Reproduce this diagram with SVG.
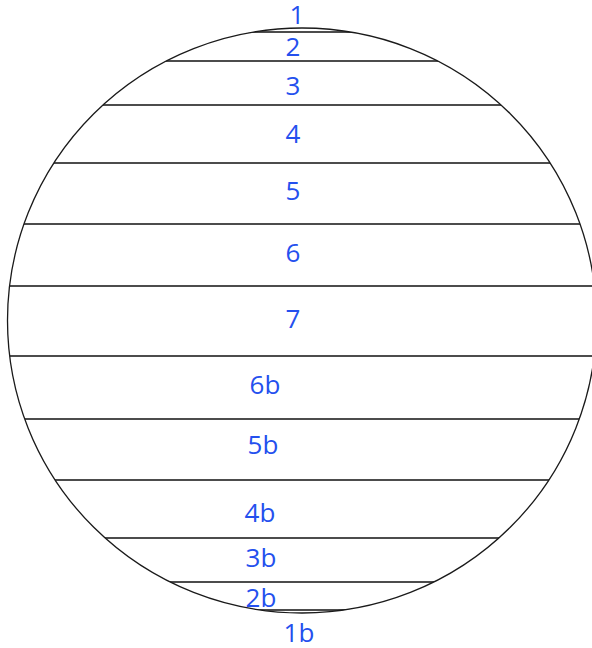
<svg xmlns="http://www.w3.org/2000/svg" width="592" height="648" viewBox="0 0 592 648">
<style>
.l{font-family:"Open Sans","Liberation Sans",sans-serif;font-size:26px;fill:#2450ee}
.m{text-anchor:middle}
.c{stroke:#1a1a1a;stroke-width:1.3;fill:none}
</style>
<defs><clipPath id="cp"><ellipse cx="302" cy="320.5" rx="294.5" ry="292.5"/></clipPath></defs>
<rect width="592" height="648" fill="#fff"/>
<g id="connectors" clip-path="url(#cp)" stroke="#111" stroke-width="1.4">
<line x1="0" y1="32" x2="592" y2="32"/>
<line x1="0" y1="61" x2="592" y2="61"/>
<line x1="0" y1="105" x2="592" y2="105"/>
<line x1="0" y1="163" x2="592" y2="163"/>
<line x1="0" y1="224" x2="592" y2="224"/>
<line x1="0" y1="286" x2="592" y2="286"/>
<line x1="0" y1="356" x2="592" y2="356"/>
<line x1="0" y1="419" x2="592" y2="419"/>
<line x1="0" y1="480" x2="592" y2="480"/>
<line x1="0" y1="538" x2="592" y2="538"/>
<line x1="0" y1="582" x2="592" y2="582"/>
<line x1="0" y1="610" x2="592" y2="610"/>
</g>
<g id="circle"><ellipse class="c" cx="302" cy="320.5" rx="294.5" ry="292.5"/></g>
<g id="labels">
<text id="n1" class="l m" x="297" y="24">1</text>
<text id="n2" class="l m" x="293" y="56">2</text>
<text id="n3" class="l m" x="293" y="95">3</text>
<text id="n4" class="l m" x="293" y="143">4</text>
<text id="n5" class="l m" x="293" y="200">5</text>
<text id="n6" class="l m" x="293" y="262">6</text>
<text id="n7" class="l m" x="293" y="328">7</text>
<text id="n6b" class="l m" x="265" y="394">6b</text>
<text id="n5b" class="l m" x="263" y="454">5b</text>
<text id="n4b" class="l m" x="260" y="522">4b</text>
<text id="n3b" class="l m" x="261" y="567">3b</text>
<text id="n2b" class="l m" x="261" y="607">2b</text>
<text id="n1b" class="l m" x="299" y="642">1b</text>
</g>
</svg>
